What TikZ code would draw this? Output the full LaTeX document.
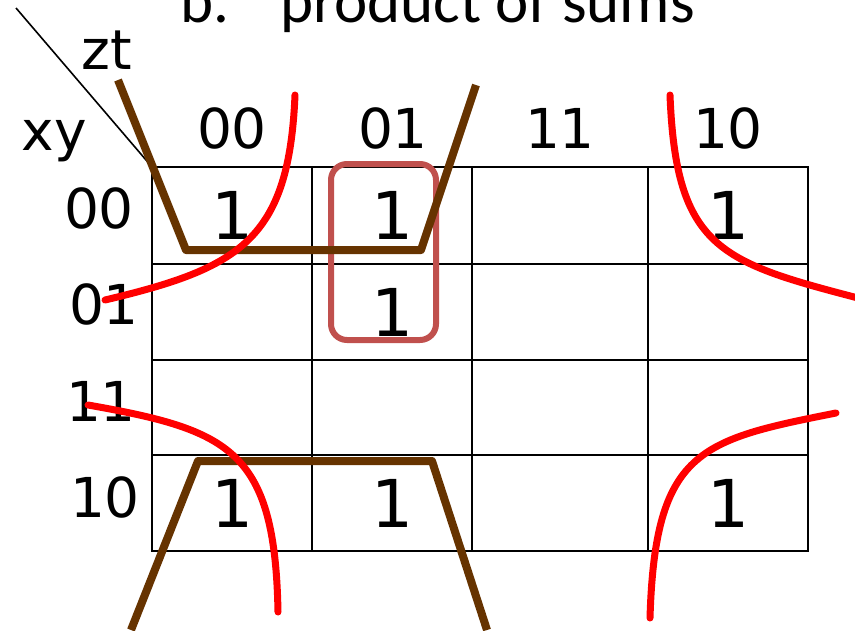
\documentclass[tikz,border=0pt]{standalone}
\usepackage{fontspec}
\setmainfont{DejaVu Sans}
\newfontfamily\titlefont{Carlito}
\begin{document}
\begin{tikzpicture}[x=1pt,y=-1pt,
  cell/.style={draw=black,line width=2.5pt,rectangle,inner sep=0pt,outer sep=0pt,anchor=north west},
  one/.style={font=\fontsize{66}{66}\selectfont,inner sep=0pt},
  lbl/.style={font=\fontsize{55}{55}\selectfont,inner sep=0pt,anchor=base},
  loopline/.style={draw=red,line width=7pt,line cap=round},
  bracket/.style={draw={rgb,255:red,102;green,51;blue,0},line width=8pt,line cap=butt,line join=round},
  group/.style={draw={rgb,255:red,192;green,80;blue,77},line width=6pt,rounded corners=16pt}]
\useasboundingbox (0,0) rectangle (855,630);

% title (top partly cut off by the page edge)
\node[font=\titlefont\fontsize{63}{63}\selectfont,anchor=base west,inner sep=0pt] (tb) at (180,22) {b.};
\node[font=\titlefont\fontsize{63}{63}\selectfont,anchor=base west,inner sep=0pt] (tt) at (280,22) {product of sums};

% Karnaugh map cells
\foreach \c/\x/\w in {0/152/160,1/312/160,2/472/176,3/648/160}
  \foreach \r/\y/\h in {0/167/97,1/264/96,2/360/95,3/455/96}
    \node[cell,minimum width=\w pt,minimum height=\h pt] (c\r\c) at (\x,\y) {};

% corner split and variable names
\coordinate (dstart) at (16,8);
\draw[line width=1.6pt] (dstart) -- (c00.north west);
\node[lbl] (zt) at (107,69) {zt};
\node[lbl] (xy) at (54,150) {xy};

% column labels
\node[lbl] (h0) at (232,148) {00};
\node[lbl] (h1) at (393,148) {01};
\node[lbl] (h2) at (560,148) {11};
\node[lbl] (h3) at (728,148) {10};

% row labels
\node[lbl] (r0) at (99,228) {00};
\node[lbl] (r1) at (104,324) {01};
\node[lbl] (r2) at (101,421) {11};
\node[lbl] (r3) at (105,517) {10};

% minterms
\node[one] (o00) at (c00) {1};
\node[one] (o01) at (c01) {1};
\node[one] (o03) at (c03) {1};
\node[one] (o11) at (c11) {1};
\node[one] (o30) at (c30) {1};
\node[one] (o31) at (c31) {1};
\node[one] (o33) at (c33) {1};

% grouping of the column 01 pair
\draw[group] (331,164) rectangle (436,340);

% brown brackets over the top and bottom rows
\coordinate (ta) at (118,80);
\coordinate (tb1) at (186,250);
\coordinate (tc) at (421,250);
\coordinate (td) at (476,85);
\draw[bracket] (ta) -- (tb1) -- (tc) -- (td);
\coordinate (ba) at (131,630);
\coordinate (bb) at (198,461);
\coordinate (bc) at (432,461);
\coordinate (bd) at (487,630);
\draw[bracket] (ba) -- (bb) -- (bc) -- (bd);

% red corner groupings
\coordinate (k1a) at (295,95);
\coordinate (k1b) at (105,300);
\draw[loopline] (k1a) .. controls (289,240) and (240,268) .. (k1b);
\coordinate (k2a) at (670,95);
\coordinate (k2b) at (858,298);
\draw[loopline] (k2a) .. controls (676,248) and (720,262) .. (k2b);
\coordinate (k3a) at (88,405);
\coordinate (k3b) at (278,612);
\draw[loopline] (k3a) .. controls (230,430) and (275,450) .. (k3b);
\coordinate (k4a) at (836,413);
\coordinate (k4b) at (650,618);
\draw[loopline] (k4a) .. controls (700,440) and (655,450) .. (k4b);
\end{tikzpicture}
\end{document}
